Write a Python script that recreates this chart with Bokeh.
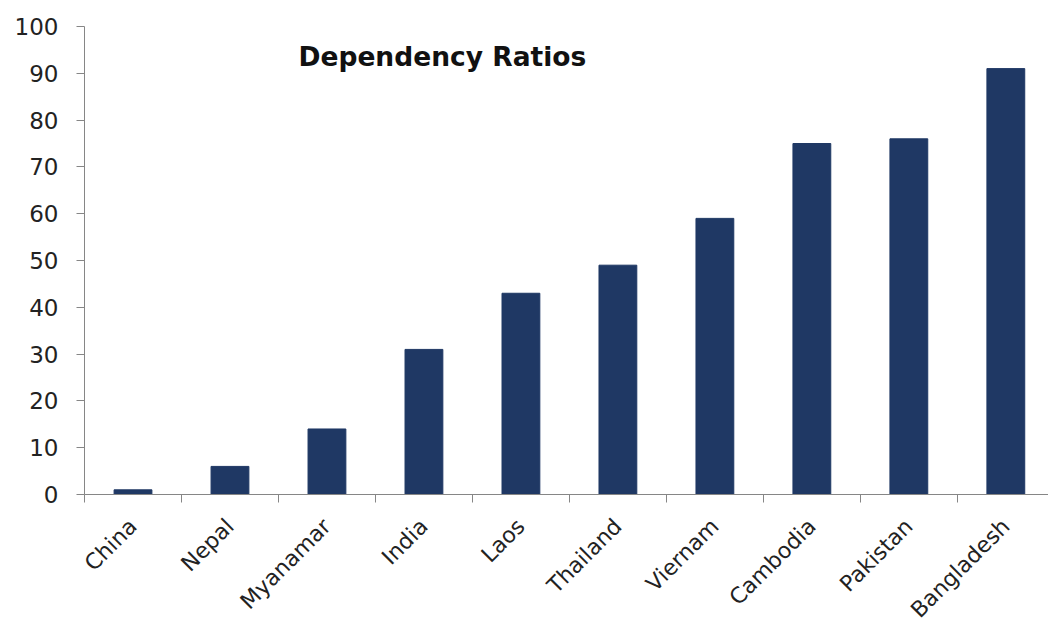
from bokeh.plotting import figure
from bokeh.models import FixedTicker, Range1d, Label
from bokeh.embed import file_html
from bokeh.resources import INLINE
import math

countries = ["China", "Nepal", "Myanamar", "India", "Laos", "Thailand", "Viernam", "Cambodia", "Pakistan", "Bangladesh"]
ratios = [1, 6, 14, 31, 43, 49, 59, 75, 76, 91]
y_ticks = [0, 10, 20, 30, 40, 50, 60, 70, 80, 90, 100]

xs = list(range(len(countries)))

p = figure(width=1048, height=634, output_backend="svg", toolbar_location=None,
           x_range=Range1d(-0.5, 9.44), y_range=Range1d(0, 100),
           min_border_left=84, min_border_right=0, min_border_top=26, min_border_bottom=140)
p.outline_line_color = None
p.xgrid.grid_line_color = None
p.ygrid.grid_line_color = None
p.background_fill_color = "white"
p.border_fill_color = "white"

p.vbar(x=xs, top=ratios, width=0.39, bottom=0, fill_color="#1F3864", line_color="#1F3864")

font = "DejaVu Sans"
# x axis
p.xaxis.ticker = FixedTicker(ticks=xs, minor_ticks=[i - 0.5 for i in range(len(countries) + 1)])
p.xaxis.major_label_overrides = {i: c for i, c in enumerate(countries)}
p.xaxis.major_tick_out = 0
p.xaxis.major_tick_in = 0
p.xaxis.minor_tick_out = 8
p.xaxis.minor_tick_in = 0
p.xaxis.minor_tick_line_color = "#868686"
p.xaxis.axis_line_color = "#868686"
p.xaxis.major_label_orientation = math.pi / 4
p.xaxis.major_label_text_font = font
p.xaxis.major_label_text_font_size = "22px"
p.xaxis.major_label_text_color = "#222222"
p.xaxis.major_label_standoff = 20

# y axis
p.yaxis.ticker = FixedTicker(ticks=y_ticks, minor_ticks=[])
p.yaxis.major_tick_out = 8
p.yaxis.major_tick_in = 0
p.yaxis.major_tick_line_color = "#868686"
p.yaxis.axis_line_color = "#868686"
p.yaxis.major_label_text_font = font
p.yaxis.major_label_text_font_size = "23px"
p.yaxis.major_label_text_color = "#222222"
p.yaxis.major_label_standoff = 18

title = Label(x=1.706, y=93.6, text="Dependency Ratios", text_font=font, text_font_style="bold",
              text_font_size="26.5px", text_baseline="middle", text_align="left", text_color="#111111")
p.add_layout(title)

open("out.html", "w").write(file_html(p, INLINE))
